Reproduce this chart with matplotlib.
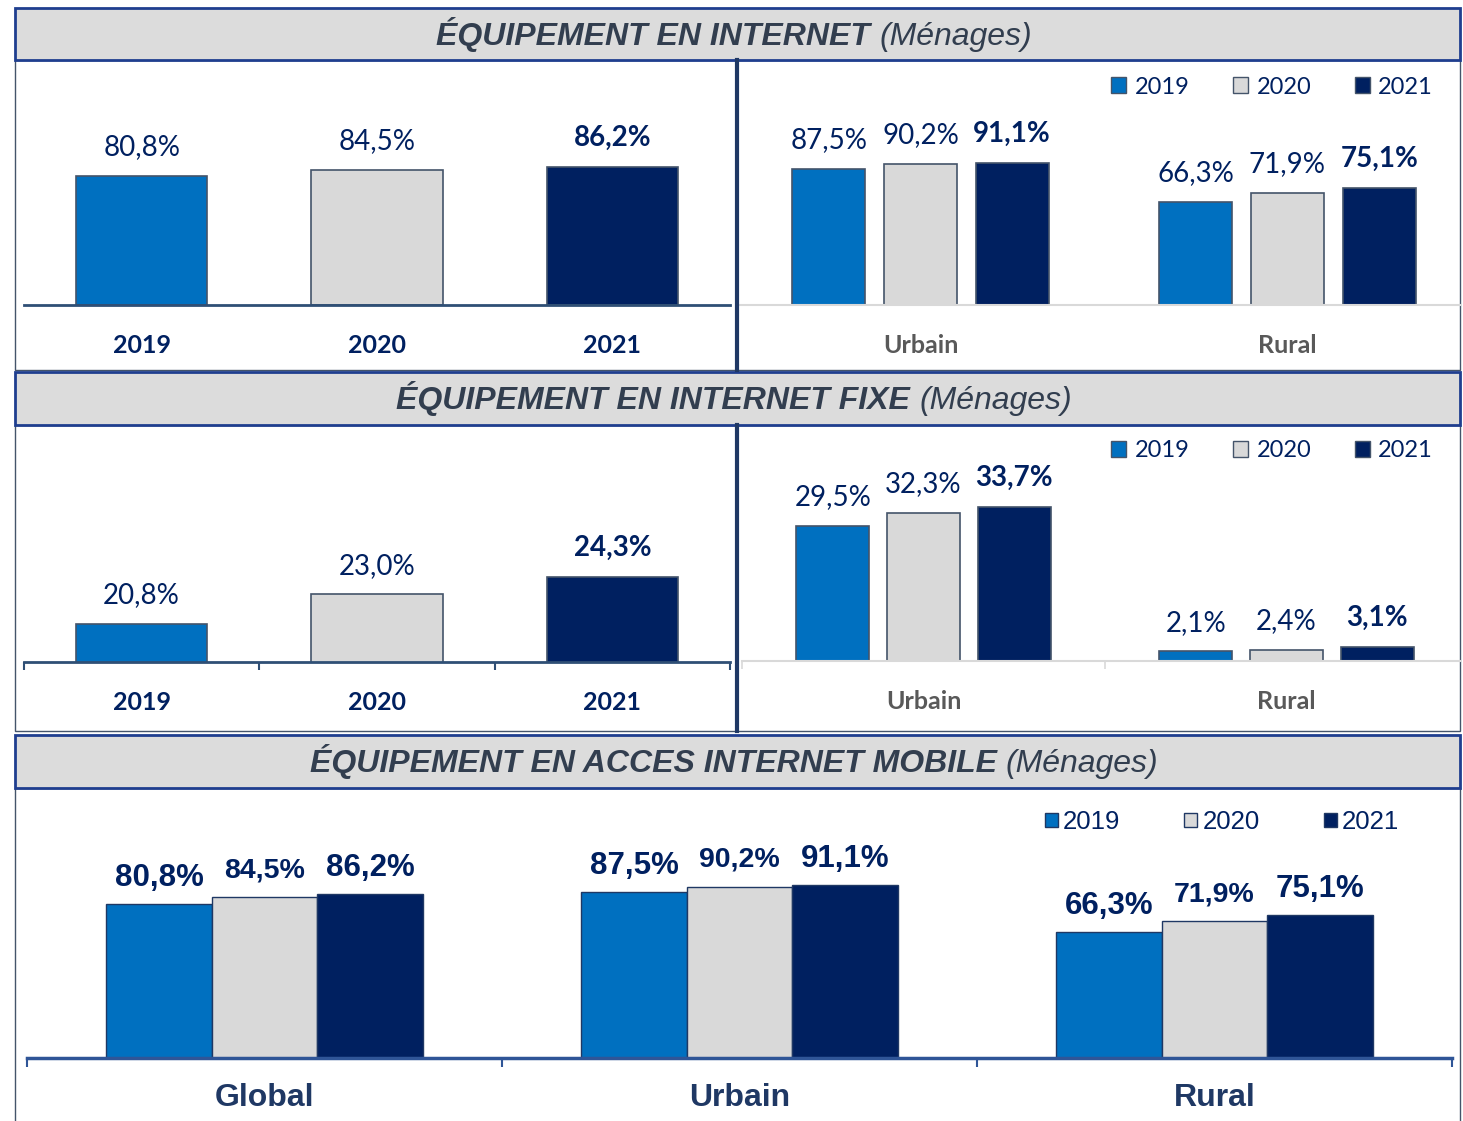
import numpy as np
import matplotlib
matplotlib.use("Agg")
import matplotlib.pyplot as plt
from matplotlib.patches import Rectangle, Patch
from matplotlib.lines import Line2D

# data
years = ['2019', '2020', '2021']
zones = ['Urbain', 'Rural']
mobile_groups = ['Global', 'Urbain', 'Rural']

internet_total = [80.8, 84.5, 86.2]
internet_urbain = [87.5, 90.2, 91.1]
internet_rural = [66.3, 71.9, 75.1]

fixe_total = [20.8, 23.0, 24.3]
fixe_urbain = [29.5, 32.3, 33.7]
fixe_rural = [2.1, 2.4, 3.1]

mobile_2019 = [80.8, 87.5, 66.3]
mobile_2020 = [84.5, 90.2, 71.9]
mobile_2021 = [86.2, 91.1, 75.1]

colors = ['#0070C0', '#D9D9D9', '#002060']
NAVY = '#002060'
CAL = ['Lato', 'DejaVu Sans']
ARIAL = ['Liberation Sans', 'DejaVu Sans']

W, H = 1463, 1121
fig = plt.figure(figsize=(W / 100, H / 100), dpi=100)
fig.patch.set_facecolor('white')


def add_ax(x0, y0, x1, y1):
    ax = fig.add_axes([x0 / W, 1 - y1 / H, (x1 - x0) / W, (y1 - y0) / H])
    ax.patch.set_alpha(0)
    for s in ['top', 'left', 'right']:
        ax.spines[s].set_visible(False)
    ax.set_yticks([])
    return ax


def fmt(v):
    return f"{v:.1f}%".replace('.', ',')


# frames and headers
def box(y0, y1, fc, ec, lw):
    fig.add_artist(Rectangle((15 / W, 1 - y1 / H), (1460 - 15) / W, (y1 - y0) / H,
                             transform=fig.transFigure, fc=fc, ec=ec, lw=lw, zorder=0))


box(60, 370, 'white', '#44546A', 1)
box(425, 731, 'white', '#44546A', 1)
box(788, 1130, 'white', '#44546A', 1)

renderer = fig.canvas.get_renderer()
HS = 23


def header(y0, y1, base, bold, rest):
    box(y0, y1, '#DCDCDC', '#1F3E8F', 2)
    yb = 1 - base / H
    t1 = fig.text(0, yb, bold, fontsize=HS, fontweight='bold', fontstyle='italic',
                  family=ARIAL, color='#323E4F', va='baseline', ha='left')
    t2 = fig.text(0, yb, rest, fontsize=HS, fontstyle='italic',
                  family=ARIAL, color='#323E4F', va='baseline', ha='left')
    w1 = t1.get_window_extent(renderer).width
    w2 = t2.get_window_extent(renderer).width
    gap = 0.28 * HS * 100 / 72
    x0 = 734 - (w1 + gap + w2) / 2
    t1.set_x(x0 / W)
    t2.set_x((x0 + w1 + gap) / W)


header(8, 60, 45, 'ÉQUIPEMENT EN INTERNET', '(Ménages)')
header(372, 425, 409, 'ÉQUIPEMENT EN INTERNET FIXE', '(Ménages)')
header(735, 788, 772, 'ÉQUIPEMENT EN ACCES INTERNET MOBILE', '(Ménages)')

for ya, yb in [(60, 370), (425, 731)]:
    fig.add_artist(Line2D([737 / W, 737 / W], [1 - ya / H, 1 - yb / H],
                          transform=fig.transFigure, color='#1F3864', lw=3))


def single_panel(ax, vals, ymin, ymax, ticks):
    x = np.arange(len(vals))
    ax.bar(x, vals, width=0.557, color=colors, edgecolor='#44546A', lw=1.2)
    ax.set_xlim(-0.5, 2.5)
    ax.set_ylim(ymin, ymax)
    ax.spines['bottom'].set_color('#2F4F75')
    ax.spines['bottom'].set_linewidth(2)
    ax.set_xticks(x, years)
    ax.tick_params(axis='x', length=0, pad=21)
    for lab in ax.get_xticklabels():
        lab.set(fontsize=18, fontweight='bold', color=NAVY, family=CAL)
    if ticks:
        ax.set_xticks([-0.5, 0.5, 1.5, 2.5], minor=True)
        ax.tick_params(axis='x', which='minor', length=6, width=1.5,
                       color='#2F4F75', direction='out')
    for i, v in enumerate(vals):
        ax.annotate(fmt(v), (i, v), xytext=(0, 15), textcoords='offset points',
                    ha='center', va='baseline', fontsize=20, family=CAL, color=NAVY,
                    fontweight='bold' if i == 2 else 'normal')


def zone_panel(ax, urb, rur, spacing, width_px, ymax, ticks, legend_y):
    data = np.array([urb, rur])
    xz = np.arange(2)
    for j in range(3):
        ax.bar(xz + (j - 1) * 0.25, data[:, j], width=0.2, color=colors[j],
               edgecolor='#44546A', lw=1.2)
        for i in range(2):
            ax.annotate(fmt(data[i, j]), (xz[i] + (j - 1) * 0.25, data[i, j]),
                        xytext=(0, 15), textcoords='offset points', ha='center',
                        va='baseline', fontsize=20, family=CAL, color=NAVY,
                        fontweight='bold' if j == 2 else 'normal')
    ax.set_xlim(-0.5, -0.5 + width_px / spacing)
    ax.set_ylim(0, ymax)
    ax.spines['bottom'].set_color('#D9D9D9')
    ax.spines['bottom'].set_linewidth(1.5)
    ax.set_xticks(xz, zones)
    ax.tick_params(axis='x', length=0, pad=21)
    for lab in ax.get_xticklabels():
        lab.set(fontsize=18, fontweight='bold', color='#595959', family=CAL)
    if ticks:
        ax.set_xticks([-0.5, 0.5], minor=True)
        ax.tick_params(axis='x', which='minor', length=6, width=1.2,
                       color='#D9D9D9', direction='out')
    handles = [Patch(fc=c, ec='#44546A', lw=1) for c in colors]
    fig.legend(handles, years, loc='center right', bbox_to_anchor=(1433 / W, 1 - legend_y / H),
               ncol=3, frameon=False, handlelength=0.64, handleheight=0.64,
               handletextpad=0.34, columnspacing=1.86, borderpad=0, borderaxespad=0,
               prop={'family': CAL, 'size': 17}, labelcolor=NAVY)


# panel 1
ax1 = add_ax(24, 62, 730, 305)
single_panel(ax1, internet_total, 0, 243 / 1.6, False)
ax2 = add_ax(737, 62, 1460, 305)
zone_panel(ax2, internet_urbain, internet_rural, 367, 723, 243 / 1.56, False, 87)

# panel 2
ax3 = add_ax(24, 427, 730, 662)
single_panel(ax3, fixe_total, 18, 18 + 235 / 13.5, True)
ax4 = add_ax(742, 427, 1460, 661)
zone_panel(ax4, fixe_urbain, fixe_rural, 363, 718, 234 / 4.58, True, 451)

# panel 3
ax5 = add_ax(27, 790, 1452, 1058)
mobile = np.array([mobile_2019, mobile_2020, mobile_2021])
xg = np.arange(3)
for j in range(3):
    ax5.bar(xg + (j - 1) * 0.222, mobile[j], width=0.222, color=colors[j],
            edgecolor='#1F3864', lw=1)
    for i in range(3):
        ax5.annotate(fmt(mobile[j, i]), (xg[i] + (j - 1) * 0.222, mobile[j, i]),
                     xytext=(0, 14.4 if j == 1 else 13), textcoords='offset points',
                     ha='center', va='baseline', fontsize=20.5 if j == 1 else 22.5,
                     fontweight='bold', family=ARIAL, color=NAVY)
ax5.set_xlim(-0.5, 2.5)
ax5.set_ylim(0, 268 / 1.9)
ax5.spines['bottom'].set_color('#2F5597')
ax5.spines['bottom'].set_linewidth(2.5)
ax5.set_xticks(xg, mobile_groups)
ax5.tick_params(axis='x', length=0, pad=18)
for lab in ax5.get_xticklabels():
    lab.set(fontsize=23, fontweight='bold', color='#1F3864', family=ARIAL)
ax5.set_xticks([-0.5, 0.5, 1.5, 2.5], minor=True)
ax5.tick_params(axis='x', which='minor', length=6.5, width=1.5, color='#2F5597',
                direction='out')
handles = [Patch(fc=c, ec='#1F3864', lw=1) for c in colors]
fig.legend(handles, years, loc='center right', bbox_to_anchor=(1399 / W, 1 - 822 / H),
           ncol=3, frameon=False, handlelength=0.5, handleheight=0.5,
           handletextpad=0.2, columnspacing=2.5, borderpad=0, borderaxespad=0,
           prop={'family': ARIAL, 'size': 18.5}, labelcolor=NAVY)

fig.savefig('out.png', dpi=100)
